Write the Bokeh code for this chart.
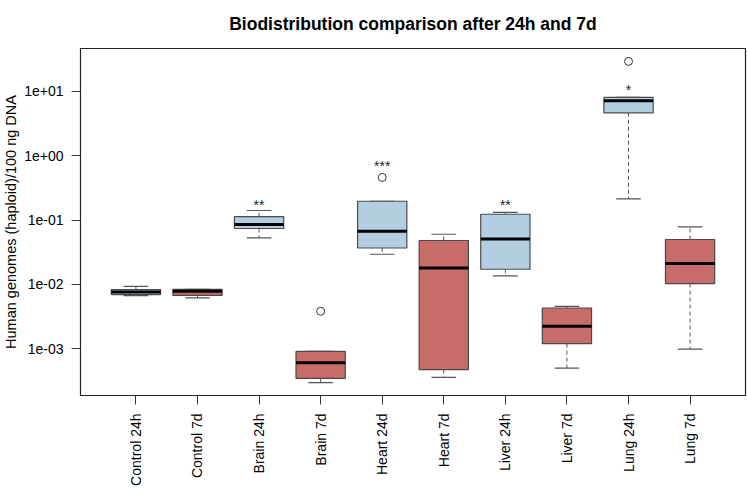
import numpy as np
from bokeh.plotting import figure
from bokeh.models import Range1d, FixedTicker, CustomJSTickFormatter, ColumnDataSource
from bokeh.core.properties import value
from bokeh.embed import file_html
from bokeh.resources import INLINE

categories = ["Control 24h", "Control 7d", "Brain 24h", "Brain 7d", "Heart 24d",
              "Heart 7d", "Liver 24h", "Liver 7d", "Lung 24h", "Lung 7d"]
lower_whisker = [0.00667, 0.00612, 0.0526, 0.000294, 0.0293, 0.000356, 0.01346, 0.000497, 0.213, 0.00098]
q1 = [0.0069, 0.0067, 0.0738, 0.000344, 0.0367, 0.00047, 0.01714, 0.00119, 4.66, 0.01026]
median = [0.0076, 0.0078, 0.085, 0.0006, 0.067, 0.01795, 0.0508, 0.00222, 7.16, 0.021]
q3 = [0.00826, 0.0083, 0.113, 0.00090, 0.196, 0.048, 0.123, 0.00427, 8.09, 0.0497]
upper_whisker = [0.0093, 0.0083, 0.1406, 0.00090, 0.196, 0.060, 0.131, 0.00454, 8.09, 0.0782]
group_colors = ["#b3cee0", "#c86b6b", "#b3cee0", "#c86b6b", "#b3cee0",
                "#c86b6b", "#b3cee0", "#c86b6b", "#b3cee0", "#c86b6b"]

outlier_group = ["Brain 7d", "Heart 24d", "Lung 24h"]
outlier_value = [0.0038, 0.459, 29.4]

star_group = ["Brain 24h", "Heart 24d", "Liver 24h", "Lung 24h"]
star_text = ["**", "***", "**", "*"]
star_value = [0.1718, 0.697, 0.1718, 10.6]

y_ticks = [1e-3, 1e-2, 1e-1, 1e0, 1e1]
y_tick_labels = ["1e-03", "1e-02", "1e-01", "1e+00", "1e+01"]

title_text = "Biodistribution comparison after 24h and 7d"
y_label = "Human genomes (haploid)/100 ng DNA"

FONT = "Liberation Sans"

pos = list(range(1, len(categories) + 1))
idx = {c: i + 1 for i, c in enumerate(categories)}
box_w = 0.8
cap_w = 0.4

p = figure(width=747, height=491, output_backend="svg", toolbar_location=None,
           y_axis_type="log",
           x_range=Range1d(0.1, 10.9), y_range=Range1d(10 ** -3.731, 10 ** 1.669),
           min_border_left=78, min_border_right=2, min_border_top=48, min_border_bottom=96,
           title=title_text)
p.title.align = "center"
p.title.vertical_align = "top"
p.title.text_font = FONT
p.title.text_font_size = "17.5px"
p.title.text_font_style = "bold"
p.title.text_color = "black"
p.title.standoff = 26
p.grid.visible = False
p.outline_line_color = "#222222"
p.outline_line_width = 1.2
p.background_fill_color = "white"
p.border_fill_color = "white"

src = ColumnDataSource(dict(x=pos, left=[x - box_w / 2 for x in pos], right=[x + box_w / 2 for x in pos],
                            capl=[x - cap_w / 2 for x in pos], capr=[x + cap_w / 2 for x in pos],
                            lo=lower_whisker, q1=q1, med=median, q3=q3, hi=upper_whisker,
                            color=group_colors))

# whiskers (dashed)
p.segment(x0="x", y0="q3", x1="x", y1="hi", source=src, line_color="#555555",
          line_width=1, line_dash="4 3")
p.segment(x0="x", y0="q1", x1="x", y1="lo", source=src, line_color="#555555",
          line_width=1, line_dash="4 3")
# caps
p.segment(x0="capl", y0="hi", x1="capr", y1="hi", source=src, line_color="#555555", line_width=1.2)
p.segment(x0="capl", y0="lo", x1="capr", y1="lo", source=src, line_color="#555555", line_width=1.2)
# boxes
p.quad(left="left", right="right", bottom="q1", top="q3", source=src,
       fill_color="color", line_color="#4a4a4a", line_width=1.2)
# medians
p.segment(x0="left", y0="med", x1="right", y1="med", source=src, line_color="black", line_width=3)

# outliers
p.scatter(x=[idx[g] for g in outlier_group], y=outlier_value, size=8, marker="circle",
          fill_color=None, line_color="#333333", line_width=1)

# significance stars
p.text(x=[idx[g] for g in star_group], y=star_value, text=star_text,
       text_align="center", text_baseline="middle",
       text_font=value(FONT), text_font_size="14px", text_color="#222222")

# axes
xa = p.xaxis[0]
xa.ticker = FixedTicker(ticks=pos)
xa.major_label_overrides = {i: c for i, c in zip(pos, categories)}
xa.major_label_orientation = np.pi / 2
xa.major_label_text_font = FONT
xa.major_label_text_font_size = "14px"
xa.major_label_text_color = "black"
xa.major_tick_out = 9
xa.major_tick_in = 0
xa.minor_tick_out = 0
xa.minor_tick_in = 0
xa.major_label_standoff = 9
xa.axis_line_color = None
xa.major_tick_line_color = "#333333"

ya = p.yaxis[0]
ya.ticker = FixedTicker(ticks=y_ticks, minor_ticks=[])
ya.formatter = CustomJSTickFormatter(args=dict(vals=y_ticks, labs=y_tick_labels), code="""
    let best = 0, bd = Infinity;
    for (let i = 0; i < vals.length; i++) {
        const d = Math.abs(Math.log10(vals[i]) - Math.log10(tick));
        if (d < bd) { bd = d; best = i; }
    }
    return labs[best];
""")
ya.axis_label = y_label
ya.axis_label_text_font = FONT
ya.axis_label_text_font_size = "14.5px"
ya.axis_label_text_font_style = "normal"
ya.axis_label_text_color = "black"
ya.axis_label_standoff = 2
ya.major_label_text_font = FONT
ya.major_label_text_font_size = "14px"
ya.major_label_text_color = "black"
ya.major_tick_out = 9
ya.major_tick_in = 0
ya.minor_tick_out = 0
ya.minor_tick_in = 0
ya.major_label_standoff = 8
ya.axis_line_color = None
ya.major_tick_line_color = "#333333"

open("out.html", "w").write(file_html(p, INLINE))
